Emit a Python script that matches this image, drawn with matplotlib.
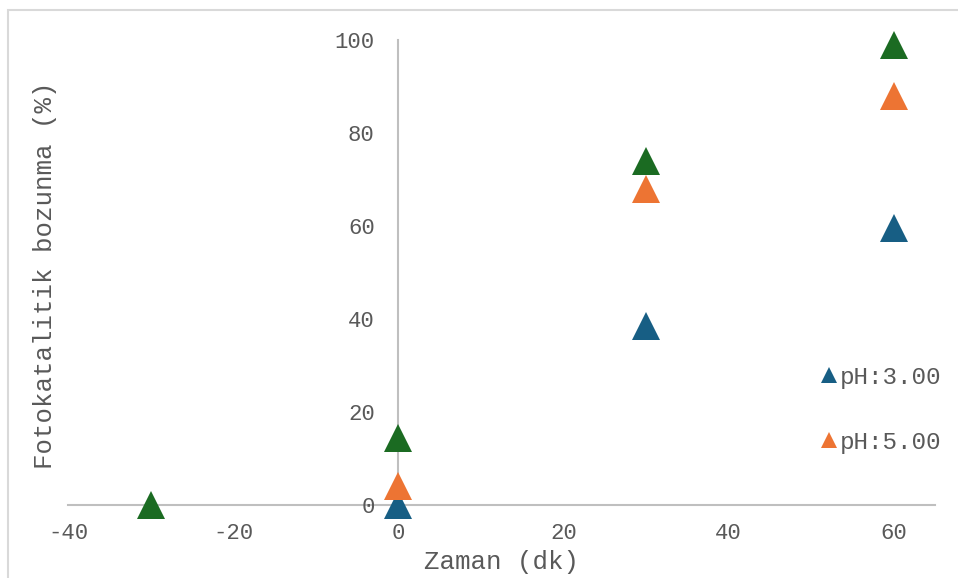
import matplotlib
matplotlib.use("Agg")
import matplotlib.pyplot as plt
from matplotlib.patches import Rectangle

# Data
ph3_x = [0, 30, 60]
ph3_y = [0, 38.5, 59.5]
ph5_x = [0, 30, 60]
ph5_y = [4, 68, 88]
ph7_x = [-30, 0, 30, 60]
ph7_y = [0, 14.5, 74, 99]
labels = ["pH:3.00", "pH:5.00", "pH:7.00"]
colors = ["#175E84", "#ED7433", "#1B6B22"]
xticks = [-40, -20, 0, 20, 40, 60]
yticks = [0, 20, 40, 60, 80, 100]

W, H = 958, 578
fig = plt.figure(figsize=(W / 100, H / 100), dpi=100)
ax = fig.add_axes([68 / W, 1 - 505 / H, (935 - 68) / W, (505 - 40) / H])

mono = "Liberation Mono"
gray = "#595959"
axcol = "#BFBFBF"

series = [(ph3_x, ph3_y), (ph5_x, ph5_y), (ph7_x, ph7_y)]
handles = []
for (xs, ys), c, lab in zip(series, colors, labels):
    h, = ax.plot(xs, ys, linestyle="none", marker="^", markersize=20,
                 markeredgewidth=0, color=c, label=lab, clip_on=False, zorder=3)
    handles.append(h)

ax.set_xlim(-40, 65)
ax.set_ylim(0, 100)
for s in ["top", "right"]:
    ax.spines[s].set_visible(False)
ax.spines["left"].set_position(("data", 0))
for s in ["left", "bottom"]:
    ax.spines[s].set_color(axcol)
    ax.spines[s].set_linewidth(1.5)
    ax.spines[s].set_zorder(1)

ax.set_xticks(xticks)
ax.set_xticklabels([str(v) for v in xticks], family=mono, fontsize=16, color=gray)
ax.set_yticks(yticks)
ax.set_yticklabels([str(v) for v in yticks], family=mono, fontsize=16, color=gray)
ax.tick_params(axis="both", length=0)
ax.tick_params(axis="x", pad=13)
ax.tick_params(axis="y", pad=17)

ax.set_xlabel("Zaman (dk)", family=mono, fontsize=18.5, color=gray, labelpad=4)
ax.set_ylabel("Fotokatalitik bozunma (%)", family=mono, fontsize=18.5, color=gray)
ax.yaxis.set_label_coords((57 - 68) / (935 - 68), 0.495)

leg = fig.legend(handles=handles[:2], labels=labels[:2], loc="upper left",
                 bbox_to_anchor=(822 / W, 1 - 366 / H), frameon=False,
                 prop={"family": mono, "size": 17.5}, labelcolor=gray,
                 markerscale=0.55, handlelength=0.6, handletextpad=0.15,
                 labelspacing=1.72, borderpad=0, borderaxespad=0)

fig.patches.append(Rectangle((8 / W, -0.1), 1.2, (H - 10) / H + 0.1,
                             transform=fig.transFigure, fill=False,
                             edgecolor="#D9D9D9", linewidth=1.5))

fig.savefig("out.png", dpi=100)
